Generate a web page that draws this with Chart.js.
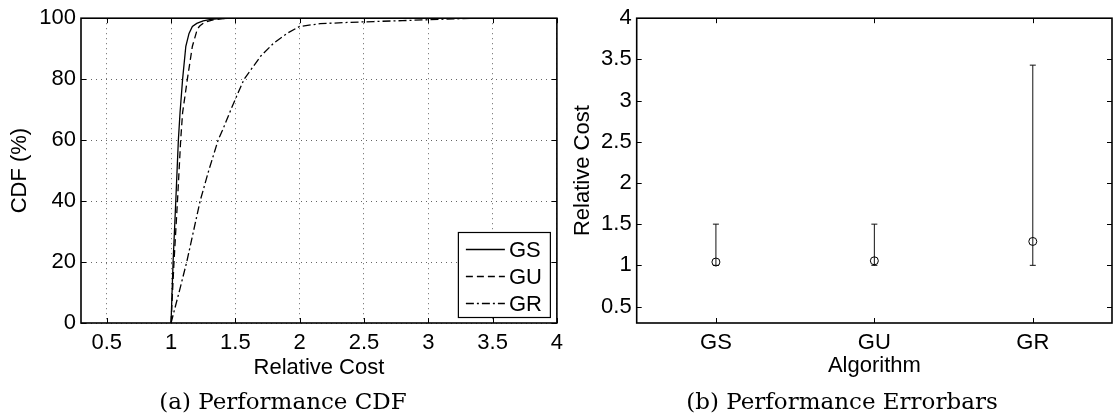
<!DOCTYPE html>
<html>
<head>
<meta charset="utf-8">
<title>Performance</title>
<script src="https://cdn.jsdelivr.net/npm/chart.js@4.4.1/dist/chart.umd.min.js"></script>
<style>
  html, body { margin: 0; padding: 0; background: #fff; overflow: hidden; }
  #wrap { position: relative; width: 1113px; height: 415px; overflow: hidden; }
  canvas { position: absolute; top: 0; }
  #cdfChart { left: 0; }
  #errChart { left: 560px; }
  .caption {
    position: absolute;
    top: 386px;
    font: 23px 'DejaVu Serif', serif;
    line-height: 30px;
    color: #000;
    white-space: nowrap;
    transform: translateX(-50%);
  }
</style>
</head>
<body>
<div id="wrap">
  <canvas id="cdfChart" width="570" height="415"></canvas>
  <canvas id="errChart" width="557" height="415"></canvas>
  <div class="caption" style="left:283px">(a) Performance CDF</div>
  <div class="caption" style="left:842px">(b) Performance Errorbars</div>
</div>

<script>
'use strict';

// CDF curves: relative cost (x) against cumulative percentage (y)
let gsCost = [1.0, 1.016, 1.037, 1.057, 1.07, 1.09, 1.115, 1.14, 1.166, 1.2, 1.25, 1.31, 1.38, 1.5];
let gsCdf  = [0, 20, 40, 60, 69, 80, 90.8, 95, 97.3, 98.3, 99.1, 99.6, 99.9, 100];

let guCost = [1.0, 1.023, 1.05, 1.075, 1.09, 1.127, 1.166, 1.205, 1.225, 1.26, 1.32, 1.4, 1.5];
let guCdf  = [0, 20, 40, 60, 69, 80, 90.8, 96.5, 97.5, 98.6, 99.4, 99.85, 100];

let grCost = [1.0, 1.062, 1.122, 1.226, 1.293, 1.366, 1.4, 1.478, 1.568, 1.698, 1.8, 1.906, 2.0, 2.16, 2.37, 2.575, 2.8, 3.0, 3.2, 3.43];
let grCdf  = [0, 10, 20, 40, 50, 60, 63.2, 71.3, 80, 87.6, 91.9, 95.1, 97.3, 98.2, 98.6, 98.9, 99.2, 99.5, 99.8, 100];

let costTicks = [0.5, 1, 1.5, 2, 2.5, 3, 3.5, 4];
let cdfTicks = [0, 20, 40, 60, 80, 100];

// Error bars: mean, min and max relative cost per algorithm
let algorithms = ['GS', 'GU', 'GR'];
let algTicks = [1, 2, 3];
let meanCost = [1.04, 1.055, 1.29];
let minCost = [1.0, 1.0, 1.0];
let maxCost = [1.5, 1.5, 3.43];

let sans = "'Liberation Sans', Arial, Helvetica, sans-serif";

Chart.defaults.color = '#000';
Chart.defaults.font.family = sans;
Chart.defaults.font.size = 22;


function toPoints(xs, ys) {
  return xs.map((x, i) => ({ x: x, y: ys[i] }));
}

// box round the plot area plus short inward tick marks on every side
let framePlugin = {
  id: 'frame',
  afterDraw(chart) {
    let ctx = chart.ctx;
    let area = chart.chartArea;
    let xs = chart.scales.x;
    let ys = chart.scales.y;
    let len = 5;
    ctx.save();
    ctx.setLineDash([]);
    ctx.strokeStyle = '#000';
    ctx.lineWidth = 1;
    ctx.beginPath();
    for (let t of xs.ticks) {
      let px = Math.round(xs.getPixelForValue(t.value)) + 0.5;
      ctx.moveTo(px, area.bottom);
      ctx.lineTo(px, area.bottom - len);
      ctx.moveTo(px, area.top);
      ctx.lineTo(px, area.top + len);
    }
    for (let t of ys.ticks) {
      let py = Math.round(ys.getPixelForValue(t.value)) + 0.5;
      ctx.moveTo(area.left, py);
      ctx.lineTo(area.left + len, py);
      ctx.moveTo(area.right, py);
      ctx.lineTo(area.right - len, py);
    }
    ctx.stroke();
    ctx.lineWidth = 1.6;
    ctx.strokeRect(area.left, area.top, area.right - area.left, area.bottom - area.top);
    ctx.restore();
  }
};

// legend box in the lower right corner of the CDF plot
let cornerLegend = {
  id: 'cornerLegend',
  afterDraw(chart) {
    let ctx = chart.ctx;
    let area = chart.chartArea;
    let w = 92;
    let h = 85;
    let left = area.right - 7 - w;
    let top = area.bottom - 6 - h;
    let rows = [17, 43.5, 70.5];
    ctx.save();
    ctx.fillStyle = '#fff';
    ctx.fillRect(left, top, w, h);
    ctx.strokeStyle = '#000';
    ctx.lineWidth = 1.2;
    ctx.setLineDash([]);
    ctx.strokeRect(left + 0.5, top + 0.5, w, h);
    ctx.font = '22px ' + sans;
    ctx.textBaseline = 'middle';
    ctx.fillStyle = '#000';
    chart.data.datasets.forEach((ds, i) => {
      let y = Math.round(top + rows[i]) + 0.5;
      ctx.lineWidth = ds.borderWidth;
      ctx.setLineDash(ds.borderDash || []);
      ctx.beginPath();
      ctx.moveTo(left + 8, y);
      ctx.lineTo(left + 47, y);
      ctx.stroke();
      ctx.setLineDash([]);
      ctx.fillText(ds.label, left + 51, y + 1);
    });
    ctx.restore();
  }
};


function renderCdfChart() {
  let ctx = document.getElementById('cdfChart').getContext('2d');
  let lineStyle = { borderColor: '#000', borderWidth: 1.3, showLine: true, pointRadius: 0, tension: 0, fill: false };

  new Chart(ctx, {
    type: 'scatter',
    data: {
      datasets: [
        Object.assign({ label: 'GS', data: toPoints(gsCost, gsCdf), borderDash: [] }, lineStyle),
        Object.assign({ label: 'GU', data: toPoints(guCost, guCdf), borderDash: [7, 4] }, lineStyle),
        Object.assign({ label: 'GR', data: toPoints(grCost, grCdf), borderDash: [8, 3, 2, 3] }, lineStyle)
      ]
    },
    options: {
      responsive: false,
      animation: false,
      devicePixelRatio: 1,
      layout: { padding: { top: 15, right: 10, bottom: 36.5, left: 0 } },
      plugins: { legend: { display: false }, tooltip: { enabled: false } },
      scales: {
        x: {
          type: 'linear',
          min: 0.3,
          max: 4,
          afterBuildTicks: s => { s.ticks = costTicks.map(v => ({ value: v })); },
          afterFit: s => { s.height = 55.5; },
          ticks: { padding: 7, callback: v => String(v) },
          grid: { color: '#666', lineWidth: 1, drawTicks: false },
          border: { display: false, dash: [1, 4] },
          title: { display: true, text: 'Relative Cost', font: { size: 22, lineHeight: 1 }, padding: { top: 0, bottom: 0 } }
        },
        y: {
          type: 'linear',
          min: 0,
          max: 100,
          afterBuildTicks: s => { s.ticks = cdfTicks.map(v => ({ value: v })); },
          afterFit: s => { s.width = 81; },
          ticks: { padding: 5, callback: v => String(v) },
          grid: { color: '#666', lineWidth: 1, drawTicks: false },
          border: { display: false, dash: [1, 4] },
          title: { display: true, text: 'CDF (%)', font: { size: 22, lineHeight: 1 }, padding: { top: 8.5, bottom: 0 } }
        }
      }
    },
    plugins: [framePlugin, cornerLegend]
  });
}


function renderErrorChart() {
  let ctx = document.getElementById('errChart').getContext('2d');

  // each bar is a min-max segment; a null point breaks the line between algorithms
  let rangePoints = [];
  for (let i = 0; i < algorithms.length; i++) {
    rangePoints.push({ x: algTicks[i], y: minCost[i] });
    rangePoints.push({ x: algTicks[i], y: maxCost[i] });
    rangePoints.push({ x: algTicks[i], y: null });
  }

  new Chart(ctx, {
    type: 'scatter',
    data: {
      datasets: [
        {
          label: 'Mean',
          data: toPoints(algTicks, meanCost),
          pointStyle: 'circle',
          pointRadius: 4,
          pointBorderWidth: 1,
          pointBorderColor: '#000',
          pointBackgroundColor: 'rgba(0,0,0,0)'
        },
        {
          label: 'Range',
          data: rangePoints,
          showLine: true,
          spanGaps: false,
          borderColor: '#111',
          borderWidth: 1,
          pointStyle: 'line',
          pointRadius: 3,
          pointBorderWidth: 1,
          pointBorderColor: '#111'
        }
      ]
    },
    options: {
      responsive: false,
      animation: false,
      devicePixelRatio: 1,
      layout: { padding: { top: 15, right: 1, bottom: 36.5, left: 0 } },
      plugins: { legend: { display: false }, tooltip: { enabled: false } },
      scales: {
        x: {
          type: 'linear',
          min: 0.5,
          max: 3.5,
          afterBuildTicks: s => { s.ticks = algTicks.map(v => ({ value: v })); },
          afterFit: s => { s.height = 55.5; },
          ticks: { padding: 7, callback: v => algorithms[v - 1] },
          grid: { display: false, drawTicks: false },
          border: { display: false },
          title: { display: true, text: 'Algorithm', font: { size: 22, lineHeight: 1 }, padding: { top: 0, bottom: 2 } }
        },
        y: {
          type: 'linear',
          min: 0.3,
          max: 4,
          afterBuildTicks: s => { s.ticks = costTicks.map(v => ({ value: v })); },
          afterFit: s => { s.width = 76.7; },
          ticks: { padding: 5, callback: v => String(v) },
          grid: { display: false, drawTicks: false },
          border: { display: false },
          title: { display: true, text: 'Relative Cost', font: { size: 22, lineHeight: 1 }, padding: { top: 12, bottom: 0 } }
        }
      }
    },
    plugins: [framePlugin]
  });
}

renderCdfChart();
renderErrorChart();
</script>
</body>
</html>
